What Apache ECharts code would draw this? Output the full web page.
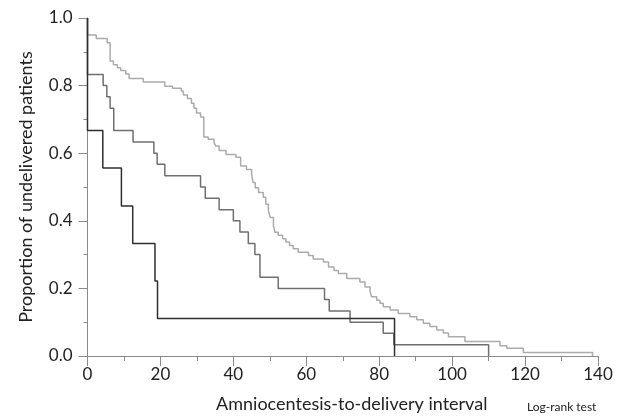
<!DOCTYPE html>
<html>
<head>
<meta charset="utf-8">
<script src="https://cdn.jsdelivr.net/npm/echarts@6/dist/echarts.min.js"></script>
<style>
html,body{margin:0;padding:0;background:#fff;}
#chart{width:620px;height:418px;}
</style>
</head>
<body>
<div id="chart"></div>
<script>
// Group with n≈9 (dark curve)
var darkTimes  = [0, 0, 4.2, 9.3, 12.4, 18.5, 19.2, 84.2];
var darkValues = [1, 0.667, 0.556, 0.444, 0.333, 0.222, 0.111, 0];

// Group with n≈30 (middle grey curve)
var midTimes  = [0, 0, 4.3, 5.3, 6.2, 7.2, 12.5, 18.2, 19.1, 21.2, 31, 32.3, 36.1, 40, 41.8, 44.1, 45.9, 47.3, 52.3, 65, 66.3, 72, 81.1, 84.0, 110];
var midValues = [1, 0.833, 0.80, 0.767, 0.733, 0.667, 0.633, 0.60, 0.567, 0.533, 0.50, 0.467, 0.433, 0.40, 0.367, 0.333, 0.30, 0.233, 0.20, 0.167, 0.133, 0.10, 0.067, 0.033, 0];

// Group with n≈80 (light grey curve)
var lightTimes  = [0, 0, 2.4, 5.4, 6.2, 7.1, 8.2, 9.1, 10.5, 11.4, 15.3, 21.2, 23.3, 25.7, 26.3, 27.4, 28.5, 29.2, 29.9, 31, 31.9, 33.1, 34.7, 35.2, 36.1, 38, 40.7, 42, 43.6, 45, 45.4, 46, 46.9, 48.2, 48.9, 49.6, 50.1, 51.0, 51.4, 52.3, 53.5, 54.4, 55.4, 56.4, 57.8, 60.6, 61.9, 64.7, 66.1, 67.6, 68.8, 71.1, 74.7, 76.1, 77.5, 77.9, 79.3, 80.2, 81.1, 83, 85.2, 88.4, 90.3, 92.1, 93.9, 95.8, 97.6, 99, 103.5, 113.1, 115, 119.5, 138.5];
var lightValues = [1, 0.95, 0.939, 0.927, 0.873, 0.862, 0.853, 0.845, 0.834, 0.821, 0.811, 0.798, 0.792, 0.784, 0.772, 0.762, 0.748, 0.733, 0.719, 0.707, 0.648, 0.641, 0.631, 0.621, 0.608, 0.596, 0.588, 0.562, 0.552, 0.538, 0.513, 0.498, 0.484, 0.47, 0.449, 0.43, 0.41, 0.385, 0.366, 0.357, 0.347, 0.337, 0.327, 0.317, 0.307, 0.297, 0.287, 0.278, 0.263, 0.253, 0.244, 0.229, 0.219, 0.204, 0.19, 0.175, 0.165, 0.156, 0.146, 0.136, 0.126, 0.116, 0.107, 0.097, 0.087, 0.077, 0.068, 0.057, 0.043, 0.03, 0.023, 0.01, 0];

var xTicks = [0, 20, 40, 60, 80, 100, 120, 140];
var yTicks = [0.0, 0.2, 0.4, 0.6, 0.8, 1.0];

function pairs(ts, vs) {
  var out = [];
  for (var i = 0; i < ts.length; i++) out.push([ts[i], vs[i]]);
  return out;
}

var font = 'Lato, "Open Sans", sans-serif';
var axisGrey = '#8a8a8a';

var chart = echarts.init(document.getElementById('chart'), null, {renderer: 'canvas'});
chart.setOption({
  animation: false,
  backgroundColor: '#ffffff',
  grid: {left: 87.5, right: 22, top: 18, bottom: 58.5, containLabel: false},
  xAxis: {
    type: 'value',
    min: xTicks[0], max: xTicks[xTicks.length - 1], interval: 20,
    name: 'Amniocentesis-to-delivery interval',
    nameLocation: 'middle', nameGap: 39,
    nameTextStyle: {fontFamily: font, fontSize: 18, color: '#222', padding: [0, 0, 0, 18]},
    axisLine: {show: true, lineStyle: {color: axisGrey, width: 1}},
    axisTick: {show: true, length: 10, lineStyle: {color: axisGrey}},
    minorTick: {show: true, splitNumber: 2, length: 5, lineStyle: {color: axisGrey}},
    axisLabel: {fontFamily: font, fontSize: 17, color: '#222', margin: 10},
    splitLine: {show: false}
  },
  yAxis: {
    type: 'value',
    min: yTicks[0], max: yTicks[yTicks.length - 1], interval: 0.2,
    name: 'Proportion of undelivered patients',
    nameLocation: 'middle', nameGap: 52,
    nameTextStyle: {fontFamily: font, fontSize: 18, color: '#222'},
    axisLine: {show: true, lineStyle: {color: axisGrey, width: 1}},
    axisTick: {show: true, length: 9, lineStyle: {color: axisGrey}},
    minorTick: {show: true, splitNumber: 2, length: 4, lineStyle: {color: axisGrey}},
    axisLabel: {fontFamily: font, fontSize: 17, color: '#222', margin: 15,
      formatter: function (v) { return v.toFixed(1); }},
    splitLine: {show: false}
  },
  series: [
    {name: 'Light', type: 'line', step: 'end', symbol: 'none', data: pairs(lightTimes, lightValues),
     lineStyle: {color: '#ababab', width: 1.5}, z: 2},
    {name: 'Middle', type: 'line', step: 'end', symbol: 'none', data: pairs(midTimes, midValues),
     lineStyle: {color: '#6f6f6f', width: 1.5}, z: 3},
    {name: 'Dark', type: 'line', step: 'end', symbol: 'none', data: pairs(darkTimes, darkValues),
     lineStyle: {color: '#2e2e2e', width: 1.5}, z: 4}
  ],
  graphic: [
    {type: 'text', left: 527, top: 401,
     style: {text: 'Log-rank test', fontFamily: font, fontSize: 12, fill: '#222'}}
  ]
});
</script>
</body>
</html>
